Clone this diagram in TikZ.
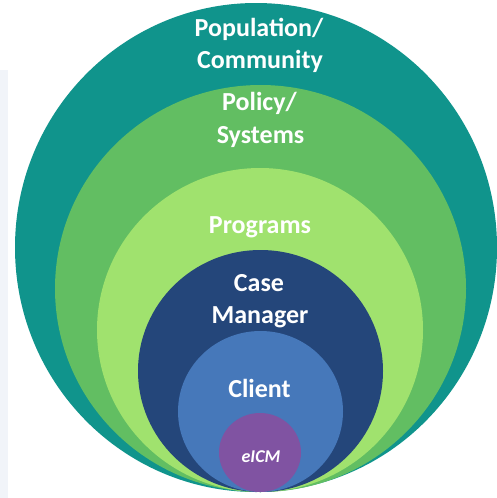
\documentclass[tikz,border=0pt]{standalone}
\usepackage{fontspec}
\setmainfont{Carlito}
\definecolor{cteal}{HTML}{10948C}
\definecolor{cgreen}{HTML}{62BE62}
\definecolor{clight}{HTML}{A0E26E}
\definecolor{cnavy}{HTML}{24467A}
\definecolor{cblue}{HTML}{4678BA}
\definecolor{cpurple}{HTML}{8053A2}
\definecolor{cpanel}{HTML}{F1F4F9}
\tikzset{
  ring/.style={fill=#1, draw=none},
  lbl/.style={text=white, font=\bfseries\fontsize{26pt}{32pt}\selectfont, inner sep=0pt, anchor=base},
  smalllbl/.style={text=white, font=\bfseries\itshape\fontsize{18pt}{22pt}\selectfont, inner sep=0pt, anchor=base}
}
\begin{document}
\begin{tikzpicture}[x=1pt,y=-1pt]
\useasboundingbox (0,0) rectangle (496,498);
\fill[white] (0,0) rectangle (496,498);
\fill[cpanel] (0,70) rectangle (8,498);
% concentric circles, tangent at the bottom
\fill[ring=cteal]   (256,247.5) ellipse [x radius=241pt, y radius=244.5pt];
\fill[ring=cgreen]  (260.5,288.5) ellipse [x radius=205.5pt, y radius=203.5pt];
\fill[ring=clight]  (260,330) ellipse [x radius=163pt, y radius=162pt];
\fill[ring=cnavy]   (260.5,371) ellipse [x radius=122.5pt, y radius=121pt];
\fill[ring=cblue]   (260.5,411.5) ellipse [x radius=82.5pt, y radius=80.5pt];
\fill[ring=cpurple] (260,452.5) ellipse [x radius=41pt, y radius=39.5pt];
% labels
\node[lbl] (pop1) at (259,36) {Population/};
\node[lbl] (pop2) at (260,68) {Community};
\node[lbl] (pol1) at (259.5,110) {Policy/};
\node[lbl] (pol2) at (260.5,143) {Systems};
\node[lbl] (prog) at (260,233) {Programs};
\node[lbl] (case1) at (259,291) {Case};
\node[lbl] (case2) at (260,323) {Manager};
\node[lbl] (client) at (259.5,397) {Client};
\node[smalllbl] (eicm) at (261,462) {eICM};
\end{tikzpicture}
\end{document}
